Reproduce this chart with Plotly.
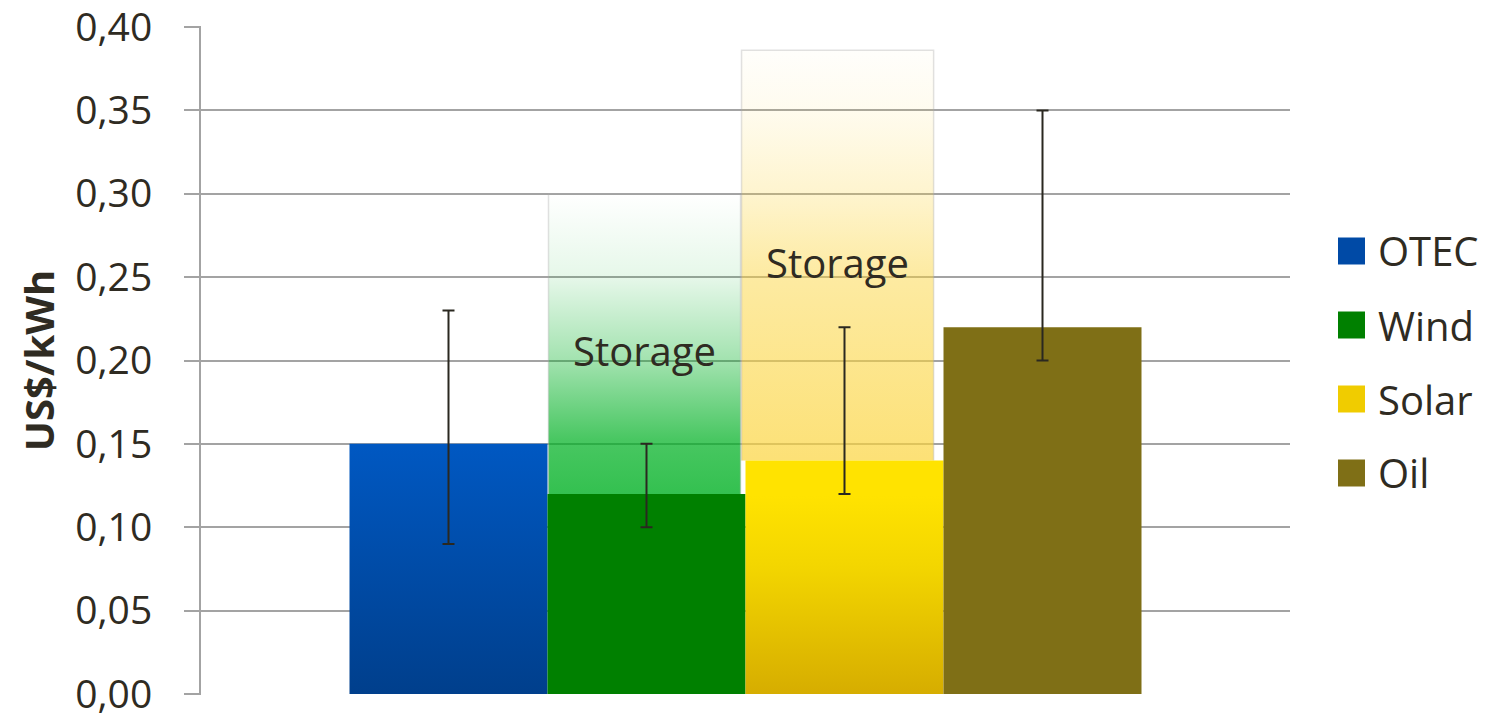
import plotly.graph_objects as go

# ---- data ----
categories = ["OTEC", "Wind", "Solar", "Oil"]
cost = [0.15, 0.12, 0.14, 0.22]
cost_low = [0.09, 0.10, 0.12, 0.20]
cost_high = [0.23, 0.15, 0.22, 0.35]
storage_series = ["Wind", "Solar"]
storage_top = [0.30, 0.386]
storage_label = ["Storage", "Storage"]
y_ticks = [0.00, 0.05, 0.10, 0.15, 0.20, 0.25, 0.30, 0.35, 0.40]

# ---- styles ----
TXT = "#2f2b22"
FONT = "Open Sans"
BAR_W = 1.0
STORAGE_W = 0.97
STORAGE_SHIFT = [-0.01, -0.035]
LABEL_DY = -0.004
bar_fill = {
    "OTEC": dict(type="vertical", colorscale=[[0, "#003f8c"], [1, "#0058c2"]]),
    "Wind": dict(type="vertical", colorscale=[[0, "#008000"], [1, "#008000"]]),
    "Solar": dict(type="vertical", colorscale=[[0, "#d6ad00"], [0.55, "#f3d600"], [0.85, "#ffe300"], [1, "#ffe300"]]),
    "Oil": dict(type="vertical", colorscale=[[0, "#7f6f16"], [1, "#7f6f16"]]),
}
legend_color = {"OTEC": "#004aa6", "Wind": "#008000", "Solar": "#f0cc00", "Oil": "#7f6f16"}
storage_fill = {
    "Wind": dict(type="vertical", colorscale=[
        [0, "rgba(1,177,36,0.80)"], [0.18, "rgba(1,177,36,0.72)"],
        [0.45, "rgba(1,177,36,0.36)"], [0.72, "rgba(1,177,36,0.10)"],
        [1, "rgba(1,177,36,0.0)"]]),
    "Solar": dict(type="vertical", colorscale=[
        [0, "rgba(251,212,60,0.70)"], [0.45, "rgba(251,212,60,0.48)"],
        [0.65, "rgba(251,212,60,0.25)"], [0.86, "rgba(251,212,60,0.08)"],
        [1, "rgba(251,212,60,0.02)"]]),
}

fig = go.Figure()

# storage boxes (behind bars)
for k, name in enumerate(storage_series):
    i = categories.index(name)
    c = i + STORAGE_SHIFT[k]
    lo, hi = cost[i], storage_top[k]
    fig.add_trace(go.Scatter(
        x=[c - STORAGE_W / 2, c - STORAGE_W / 2, c + STORAGE_W / 2, c + STORAGE_W / 2],
        y=[lo, hi, hi, lo], mode="lines", fill="toself",
        line=dict(width=1.5, color="rgba(170,170,170,0.35)"),
        fillgradient=storage_fill[name],
        showlegend=False, hoverinfo="skip"))
    fig.add_annotation(x=c, y=(lo + hi) / 2 + LABEL_DY,
                       text=storage_label[k], showarrow=False,
                       font=dict(family=FONT, size=40, color=TXT))

# main bars
for i, name in enumerate(categories):
    c = i
    v = cost[i]
    fig.add_trace(go.Scatter(
        x=[c - BAR_W / 2, c + BAR_W / 2, c + BAR_W / 2, c - BAR_W / 2, c - BAR_W / 2],
        y=[0, 0, v, v, 0], mode="lines", fill="toself",
        line=dict(width=0), fillgradient=bar_fill[name],
        name=name, showlegend=False, hoverinfo="skip"))

# error bars
fig.add_trace(go.Scatter(
    x=list(range(len(categories))), y=cost, mode="markers",
    marker=dict(size=1, opacity=0),
    error_y=dict(type="data", symmetric=False,
                 array=[h - v for h, v in zip(cost_high, cost)],
                 arrayminus=[v - l for v, l in zip(cost, cost_low)],
                 color="#2a2820", thickness=2, width=6),
    showlegend=False, hoverinfo="skip"))

# manual legend (large square keys)
PL, PR, PT, PB = 201, 1290, 26, 695
pw, ph = PR - PL, PB - PT
legend_y_px = [251, 325, 399, 473]
for name, ypx in zip(categories, legend_y_px):
    yc = (PB - ypx) / ph
    fig.add_shape(type="rect", xref="paper", yref="paper",
                  x0=(1338 - PL) / pw, x1=(1365 - PL) / pw,
                  y0=yc - 13.5 / ph, y1=yc + 13.5 / ph,
                  fillcolor=legend_color[name], line=dict(width=0))
    fig.add_annotation(xref="paper", yref="paper", x=(1376 - PL) / pw, y=yc,
                       xanchor="left", yanchor="middle", text=name, showarrow=False,
                       font=dict(family=FONT, size=40, color=TXT))

fig.update_layout(
    width=1491, height=720,
    margin=dict(l=PL, r=1491 - PR, t=PT, b=720 - PB),
    paper_bgcolor="white", plot_bgcolor="white",
    separators=",.",
    font=dict(family=FONT, color=TXT),
    showlegend=False,
)
fig.update_xaxes(range=[-1.25, 4.25], showgrid=False, showticklabels=False,
                 zeroline=False, showline=False, ticks="", automargin=False)
fig.update_yaxes(range=[-0.0006, 0.4006], tickvals=y_ticks, tickformat=".2f",
                 showgrid=True, gridcolor="#a3a3a3", gridwidth=2,
                 zeroline=False, showline=True, linecolor="#a3a3a3", linewidth=2,
                 ticks="outside", ticklen=15, tickcolor="#a3a3a3", tickwidth=2,
                 ticklabelstandoff=24, ticklabeloverflow="allow", automargin=False,
                 tickfont=dict(family=FONT, size=39, color=TXT),
                 title=dict(text="<b>US$/kWh</b>", standoff=8,
                            font=dict(family=FONT, size=40, color=TXT)))

fig.write_html("out.html")
